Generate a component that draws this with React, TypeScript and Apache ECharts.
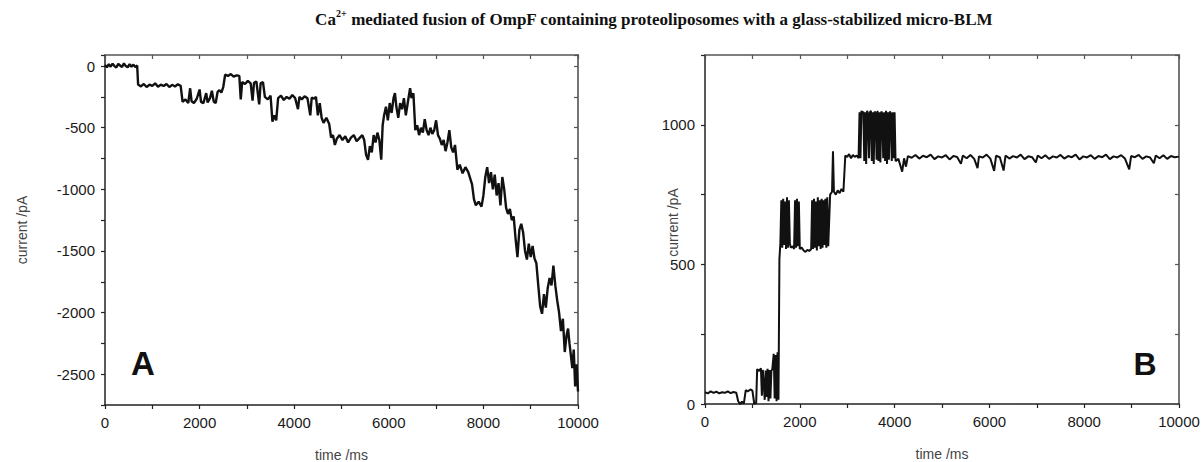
import React, { useEffect, useRef } from 'react';
import * as echarts from 'echarts';

// ---- Panel A: current trace (time ms, current pA) ----
const traceA: [number, number][] = [
  [0, 10], [40, -10], [80, 15], [120, -5], [160, 20], [200, 0], [240, -12], [280, 18], [320, 5], [360, -8],
  [400, 22], [440, 0], [480, -10], [520, 15], [560, -5], [600, 12], [640, -8], [680, 5],
  [700, -150], [760, -165], [820, -145], [880, -170], [940, -150], [1000, -160], [1060, -140], [1120, -168],
  [1180, -150], [1240, -162], [1300, -145], [1360, -170], [1420, -152], [1480, -165], [1540, -148], [1600, -160],
  [1640, -290], [1700, -270], [1760, -300], [1800, -180], [1830, -285], [1880, -300], [1940, -265], [2000, -190],
  [2030, -290], [2080, -300], [2140, -220], [2170, -295], [2220, -260], [2260, -200], [2300, -290], [2340, -300],
  [2380, -210], [2420, -195], [2460, -215], [2500, -170],
  [2540, -70], [2600, -80], [2660, -65], [2720, -85], [2780, -75], [2840, -80],
  [2870, -270], [2900, -130], [2960, -145], [3020, -120], [3080, -140], [3120, -280], [3150, -135], [3200, -125],
  [3260, -310], [3290, -140], [3340, -130],
  [3380, -250], [3440, -270], [3500, -240], [3540, -450], [3580, -400], [3620, -440], [3660, -260], [3720, -240],
  [3780, -275], [3840, -250], [3900, -265], [3960, -235], [4020, -260], [4080, -350], [4110, -250], [4160, -270],
  [4220, -245], [4280, -260], [4340, -400], [4370, -255], [4420, -265], [4460, -250],
  [4500, -400], [4540, -300], [4580, -420], [4620, -460], [4680, -420], [4740, -470],
  [4780, -580], [4820, -560], [4860, -640], [4900, -590], [4960, -560], [5020, -600], [5080, -570], [5140, -620],
  [5200, -580], [5260, -560], [5320, -610], [5380, -585], [5440, -560], [5480, -600],
  [5520, -720], [5560, -760], [5600, -650], [5640, -700], [5680, -560], [5720, -620], [5760, -540], [5800, -600],
  [5840, -760], [5870, -480],
  [5900, -400], [5940, -330], [5980, -440], [6020, -300], [6060, -380], [6100, -260], [6130, -220], [6160, -330],
  [6200, -420], [6240, -300], [6280, -350], [6320, -260], [6360, -400], [6400, -300], [6450, -180], [6480, -260],
  [6520, -220],
  [6560, -520], [6600, -480], [6640, -560], [6680, -500], [6720, -540], [6760, -430], [6800, -520], [6840, -560],
  [6880, -500], [6920, -550], [6960, -520], [7000, -440], [7040, -560],
  [7080, -590], [7120, -640], [7160, -600], [7200, -690], [7240, -620], [7280, -520], [7320, -660], [7360, -700],
  [7400, -640],
  [7450, -840], [7500, -800], [7560, -870], [7620, -820], [7680, -860],
  [7760, -960], [7800, -1080], [7840, -1130], [7900, -1100], [7960, -1140], [8000, -1050],
  [8040, -900], [8080, -820], [8120, -950], [8160, -860], [8200, -1000], [8240, -880], [8280, -1050], [8320, -950],
  [8360, -1130], [8400, -900], [8440, -1000],
  [8480, -1150], [8520, -1200], [8560, -1160], [8600, -1250], [8640, -1220],
  [8680, -1400], [8720, -1550], [8760, -1330], [8800, -1280], [8840, -1350], [8880, -1500], [8920, -1570],
  [8960, -1440], [9000, -1550], [9040, -1460], [9080, -1560], [9120, -1600],
  [9160, -1780], [9200, -1950], [9240, -2010], [9280, -1850], [9320, -1960], [9360, -1800], [9400, -1720],
  [9440, -1780], [9480, -1620], [9520, -1780], [9560, -1900],
  [9600, -2000], [9640, -2150], [9680, -2050], [9720, -2320], [9760, -2180], [9790, -2130], [9820, -2250],
  [9850, -2350], [9880, -2450], [9910, -2300], [9940, -2600], [9970, -2420], [10000, -2640],
];

// ---- Panel B: current trace (time ms, current pA) ----
const traceB: [number, number][] = [
  [0, 42], [60, 38], [120, 45], [180, 40], [240, 44], [300, 38], [360, 42], [420, 40], [480, 45], [540, 39],
  [600, 43], [660, 40],
  [700, 10], [740, 0], [780, 8], [820, 2],
  [860, 50], [900, 45], [960, 52], [1000, 48], [1040, 0], [1080, 5],
  [1100, 125], [1140, 118], [1180, 128], [1200, 30], [1220, 122], [1260, 15], [1280, 120], [1300, 25],
  [1320, 126], [1340, 10], [1360, 122], [1380, 20], [1400, 118], [1420, 125],
  [1450, 180], [1470, 20], [1490, 175], [1510, 10], [1530, 185], [1550, 15],
  [1570, 520], [1590, 575], [1610, 730], [1630, 560], [1650, 735], [1670, 570], [1690, 725], [1710, 555],
  [1730, 740], [1750, 560], [1770, 730], [1790, 575], [1810, 560], [1850, 565], [1880, 555], [1900, 730],
  [1920, 560], [1940, 735], [1960, 565], [1980, 725], [2000, 555], [2040, 560], [2080, 550], [2120, 545],
  [2160, 552], [2200, 548], [2240, 555], [2260, 730], [2280, 555], [2300, 735], [2320, 560], [2340, 725],
  [2360, 550], [2380, 740], [2400, 565], [2420, 730], [2440, 555], [2460, 735], [2480, 560], [2500, 730],
  [2520, 570], [2540, 735], [2560, 560], [2580, 740], [2600, 565],
  [2640, 750], [2680, 760], [2700, 905], [2720, 760], [2760, 750], [2800, 765], [2840, 755], [2880, 770], [2920, 760],
  [2960, 890], [3000, 885], [3040, 895], [3080, 880], [3120, 892], [3160, 885], [3200, 890], [3240, 880],
  [3260, 1045], [3280, 880], [3300, 1050], [3320, 1040], [3340, 1048], [3360, 870], [3380, 1045], [3400, 860],
  [3420, 1050], [3440, 1040], [3460, 880], [3480, 1045], [3500, 1050], [3520, 870], [3540, 1045], [3560, 860],
  [3580, 1048], [3600, 1042], [3620, 875], [3640, 1050], [3660, 870], [3680, 1045], [3700, 865], [3720, 1048],
  [3740, 1040], [3760, 880], [3780, 1045], [3800, 870], [3820, 1050], [3840, 860], [3860, 1045], [3880, 875],
  [3900, 1048], [3920, 1040], [3940, 870], [3960, 1045], [3980, 880], [4000, 1045], [4020, 870],
  [4080, 878], [4160, 832], [4200, 880], [4240, 850], [4280, 888], [4360, 882], [4440, 892], [4520, 879],
  [4600, 889], [4680, 884], [4760, 893], [4840, 877], [4920, 887], [5000, 883], [5080, 891], [5160, 876],
  [5240, 888], [5320, 885], [5400, 860], [5440, 890], [5520, 880], [5600, 892], [5680, 878], [5750, 845],
  [5780, 887], [5860, 883], [5940, 893], [6020, 879], [6100, 835], [6140, 889], [6220, 884], [6300, 836],
  [6340, 890], [6420, 879], [6500, 888], [6580, 883], [6660, 893], [6740, 877], [6820, 887], [6900, 884],
  [6980, 865], [7020, 890], [7100, 880], [7180, 891], [7260, 878], [7340, 887], [7420, 883], [7500, 892],
  [7580, 879], [7660, 888], [7740, 884], [7820, 893], [7900, 876], [7980, 887], [8060, 883], [8140, 891],
  [8220, 878], [8300, 888], [8380, 884], [8460, 893], [8540, 877], [8620, 887], [8700, 883], [8780, 891],
  [8860, 879], [8950, 840], [8990, 888], [9070, 884], [9150, 892], [9230, 878], [9310, 887], [9390, 883],
  [9470, 862], [9510, 890], [9590, 880], [9670, 891], [9750, 878], [9830, 888], [9910, 884], [10000, 886],
];

const TIME_RANGE = [0, 10000];
const TIME_TICK = 1000;
const TIME_LABEL_STEP = 2000;
const A_RANGE = [-2750, 90];
const B_RANGE = [0, 1250];
const CURRENT_TICK = 250;
const CURRENT_LABEL_STEP = 500;

const TITLE_PREFIX = 'Ca';
const TITLE_SUP = '2+';
const TITLE_REST = ' mediated fusion of OmpF containing proteoliposomes with a glass-stabilized micro-BLM';
const X_NAME = 'time /ms';
const Y_NAME = 'current /pA';

const SANS = '"Liberation Sans", Arial, Helvetica, sans-serif';
const SERIF = '"Liberation Serif", "Times New Roman", serif';

const labelStyle = { fontFamily: SANS, fontSize: 15, color: '#1a1a1a' };
const nameStyle = { fontFamily: SANS, fontSize: 14, color: '#444' };

function xAxes(grid: number) {
  const base = {
    gridIndex: grid,
    type: 'value' as const,
    min: TIME_RANGE[0],
    max: TIME_RANGE[1],
    interval: TIME_TICK,
    splitLine: { show: false },
  };
  return [
    {
      ...base,
      position: 'bottom',
      axisLine: { onZero: false, lineStyle: { color: '#222', width: 1.5 } },
      axisTick: { inside: false, length: 4, lineStyle: { color: '#222', width: 1.2 } },
      axisLabel: {
        ...labelStyle,
        margin: 10,
        formatter: (v: number) => (v % TIME_LABEL_STEP === 0 ? String(v) : ''),
      },
      name: X_NAME,
      nameLocation: 'middle',
      nameGap: 43,
      nameMoveOverlap: false,
      nameTextStyle: nameStyle,
    },
    {
      ...base,
      position: 'top',
      axisLine: { onZero: false, lineStyle: { color: '#555', width: 1.5 } },
      axisTick: { inside: true, length: 4, lineStyle: { color: '#555', width: 1.2 } },
      axisLabel: { show: false },
    },
  ];
}

function yAxes(grid: number, range: number[], nameGap: number, namePadding: number[]) {
  const base = {
    gridIndex: grid,
    type: 'value' as const,
    min: range[0],
    max: range[1],
    interval: CURRENT_TICK,
    splitLine: { show: false },
  };
  return [
    {
      ...base,
      position: 'left',
      axisLine: { onZero: false, lineStyle: { color: '#222', width: 1.5 } },
      axisTick: { inside: false, length: 4, lineStyle: { color: '#222', width: 1.2 } },
      axisLabel: {
        ...labelStyle,
        margin: 10,
        formatter: (v: number) => (v % CURRENT_LABEL_STEP === 0 ? String(v) : ''),
      },
      name: Y_NAME,
      nameLocation: 'middle',
      nameGap,
      nameMoveOverlap: false,
      nameTextStyle: { ...nameStyle, padding: namePadding },
    },
    {
      ...base,
      position: 'right',
      axisLine: { onZero: false, lineStyle: { color: '#666', width: 1.8 } },
      axisTick: { inside: true, length: 4, lineStyle: { color: '#555', width: 1.2 } },
      axisLabel: { show: false },
    },
  ];
}

export default function App() {
  const ref = useRef<HTMLDivElement>(null);
  useEffect(() => {
    if (!ref.current) return;
    const chart = echarts.init(ref.current, null, { renderer: 'svg' });
    chart.setOption({
      animation: false,
      backgroundColor: '#fff',
      grid: [
        { left: 105, top: 55, width: 473, height: 350, containLabel: false, outerBoundsMode: 'none' },
        { left: 705, top: 55, width: 474, height: 349, containLabel: false, outerBoundsMode: 'none' },
      ],
      xAxis: [...xAxes(0), ...xAxes(1)],
      yAxis: [...yAxes(0, A_RANGE, 76, [0, 0, 0, 0]), ...yAxes(1, B_RANGE, 25, [0, 0, 0, 14])],
      series: [
        {
          type: 'line',
          xAxisIndex: 0,
          yAxisIndex: 0,
          data: traceA,
          showSymbol: false,
          lineStyle: { color: '#111', width: 2.4 },
        },
        {
          type: 'line',
          xAxisIndex: 2,
          yAxisIndex: 2,
          data: traceB,
          showSymbol: false,
          lineStyle: { color: '#111', width: 2 },
        },
      ],
      graphic: [
        {
          type: 'text',
          x: 654,
          y: 18,
          style: {
            text: `{b|${TITLE_PREFIX}}{s|${TITLE_SUP}}{b|${TITLE_REST}}`,
            align: 'center',
            verticalAlign: 'middle',
            rich: {
              b: { fontFamily: SERIF, fontWeight: 'bold', fontSize: 17, fill: '#111', lineHeight: 19, verticalAlign: 'bottom' },
              s: { fontFamily: SERIF, fontWeight: 'bold', fontSize: 10, fill: '#111', lineHeight: 19, verticalAlign: 'top' },
            },
          },
        },
        {
          type: 'text',
          x: 143,
          y: 363,
          style: { text: 'A', align: 'center', verticalAlign: 'middle', fontFamily: SANS, fontWeight: 'bold', fontSize: 33, fill: '#111' },
        },
        {
          type: 'text',
          x: 1145,
          y: 364,
          style: { text: 'B', align: 'center', verticalAlign: 'middle', fontFamily: SANS, fontWeight: 'bold', fontSize: 32, fill: '#111' },
        },
      ],
    });
    return () => chart.dispose();
  }, []);
  return <div ref={ref} style={{ position: 'fixed', left: 0, top: 0, width: 1203, height: 462 }} />;
}
